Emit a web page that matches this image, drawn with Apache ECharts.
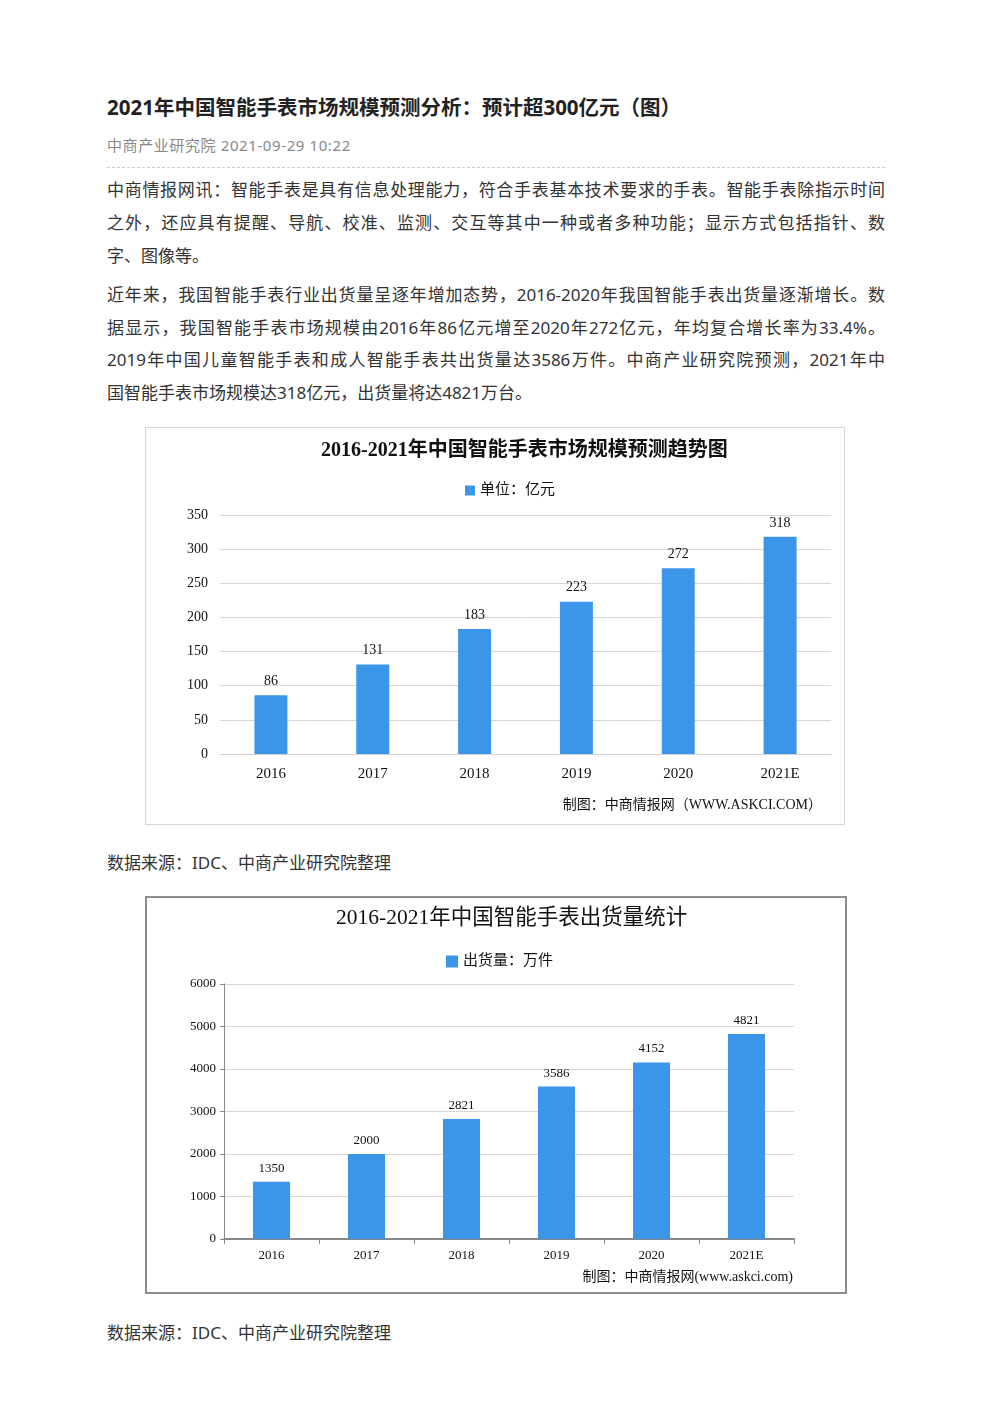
<!DOCTYPE html>
<html><head><meta charset="utf-8">
<script src="https://cdn.jsdelivr.net/npm/echarts@6/dist/echarts.min.js"></script>
<style>
html,body{margin:0;padding:0;background:#fff;}
body{width:992px;height:1403px;position:relative;font-family:"Noto Sans","Noto Sans CJK SC",sans-serif;color:#333;}
.abs{position:absolute;}
#title{left:107px;top:91px;font-size:20.5px;font-weight:bold;color:#222;white-space:nowrap;letter-spacing:0px;}
#meta{left:107px;top:134px;font-size:15px;color:#888;white-space:nowrap;letter-spacing:0.6px;}
#hr{left:107px;top:167px;width:778px;border-top:1px dashed #ccc;}
.line{position:absolute;left:107px;width:778px;font-size:17px;height:24px;line-height:24px;white-space:nowrap;text-align:justify;text-align-last:justify;color:#333;}
.line.last{text-align-last:left;}
.src{position:absolute;left:107px;font-size:17px;color:#333;white-space:nowrap;}
#c1{left:145px;top:427px;width:700px;height:398px;border:1px solid #d6d6d6;box-sizing:border-box;}
#c2{left:145px;top:896px;width:702px;height:398px;border:2px solid #8c8c8c;box-sizing:border-box;}
</style></head>
<body>
<div id="title" class="abs">2021年中国智能手表市场规模预测分析：预计超300亿元（图）</div>
<div id="meta" class="abs">中商产业研究院 2021-09-29 10:22</div>
<div id="hr" class="abs"></div>
<div class="line" style="top:178px">中商情报网讯：智能手表是具有信息处理能力，符合手表基本技术要求的手表。智能手表除指示时间</div>
<div class="line" style="top:211px">之外，还应具有提醒、导航、校准、监测、交互等其中一种或者多种功能；显示方式包括指针、数</div>
<div class="line last" style="top:244px">字、图像等。</div>
<div class="line" style="top:283px">近年来，我国智能手表行业出货量呈逐年增加态势，2016-2020年我国智能手表出货量逐渐增长。数</div>
<div class="line" style="top:316px">据显示，我国智能手表市场规模由2016年86亿元增至2020年272亿元，年均复合增长率为33.4%。</div>
<div class="line" style="top:348px">2019年中国儿童智能手表和成人智能手表共出货量达3586万件。中商产业研究院预测，2021年中</div>
<div class="line last" style="top:381px">国智能手表市场规模达318亿元，出货量将达4821万台。</div>
<div id="c1" class="abs"></div>
<div class="src" style="top:849px">数据来源：IDC、中商产业研究院整理</div>
<div id="c2" class="abs"></div>
<div class="src" style="top:1319px">数据来源：IDC、中商产业研究院整理</div>
<script>
const years = ['2016','2017','2018','2019','2020','2021E'];
const marketSize = [86,131,183,223,272,318];
const shipments = [1350,2000,2821,3586,4152,4821];
const chart1Title = '2016-2021年中国智能手表市场规模预测趋势图';
const chart1Legend = '单位：亿元';
const chart1Credit = '制图：中商情报网（WWW.ASKCI.COM）';
const chart2Title = '2016-2021年中国智能手表出货量统计';
const chart2Legend = '出货量：万件';
const chart2Credit = '制图：中商情报网(www.askci.com)';

const FONT = "'Liberation Serif','Noto Sans CJK SC',serif";
const BAR = '#3b96ea';
const plain = v => String(v);

const c1 = echarts.init(document.getElementById('c1'), null, {renderer:'canvas'});
c1.setOption({
  animation:false,
  textStyle:{fontFamily:FONT},
  title:{text:chart1Title,left:170,top:8,textStyle:{fontFamily:FONT,fontSize:20,fontWeight:'bold',color:'#111'}},
  legend:{data:[chart1Legend],left:314,top:50,itemWidth:10,itemHeight:10,itemGap:4,icon:'rect',
    textStyle:{fontFamily:FONT,fontSize:15,color:'#111'}},
  grid:{left:74,right:13,top:87,bottom:70},
  xAxis:{type:'category',data:years,
    axisLine:{show:true,lineStyle:{color:'#d0d0d0',width:1}},
    axisTick:{show:false},
    axisLabel:{fontFamily:FONT,fontSize:15,color:'#111',margin:13}},
  yAxis:{type:'value',min:0,max:350,interval:50,
    axisLine:{show:false},axisTick:{show:false},
    splitLine:{lineStyle:{color:'#d8d8d8'}},
    axisLabel:{fontFamily:FONT,fontSize:14,color:'#111',margin:12,formatter:plain}},
  series:[{name:chart1Legend,type:'bar',data:marketSize,barWidth:33,
    itemStyle:{color:BAR},
    label:{show:true,position:'top',distance:7,fontFamily:FONT,fontSize:14,color:'#111'}}],
  graphic:[{type:'text',right:22,top:370,style:{text:chart1Credit,font:"14px "+FONT,fill:'#111'}}]
});

const c2 = echarts.init(document.getElementById('c2'), null, {renderer:'canvas'});
c2.setOption({
  animation:false,
  textStyle:{fontFamily:FONT},
  title:{text:chart2Title,left:184,top:5,textStyle:{fontFamily:FONT,fontSize:21.5,fontWeight:'normal',color:'#111'}},
  legend:{data:[chart2Legend],left:294,top:51,itemWidth:12,itemHeight:12,itemGap:2,icon:'rect',
    textStyle:{fontFamily:FONT,fontSize:15,color:'#111'}},
  grid:{left:77,right:51,top:86,bottom:53},
  xAxis:{type:'category',data:years,
    axisLine:{show:true,lineStyle:{color:'#888',width:2}},
    axisTick:{show:true,length:5,lineStyle:{color:'#888'}},
    axisLabel:{fontFamily:FONT,fontSize:13,color:'#111',margin:10}},
  yAxis:{type:'value',min:0,max:6000,interval:1000,
    axisLine:{show:true,lineStyle:{color:'#888',width:1}},
    axisTick:{show:true,length:4,lineStyle:{color:'#888'}},
    splitLine:{lineStyle:{color:'#d8d8d8'}},
    axisLabel:{fontFamily:FONT,fontSize:13,color:'#111',margin:8,formatter:plain}},
  series:[{name:chart2Legend,type:'bar',data:shipments,barWidth:37,
    itemStyle:{color:BAR},
    label:{show:true,position:'top',distance:7,fontFamily:FONT,fontSize:13,color:'#111'}}],
  graphic:[{type:'text',right:52,top:372,style:{text:chart2Credit,font:"14px "+FONT,fill:'#111'}}]
});
</script>
</body></html>
